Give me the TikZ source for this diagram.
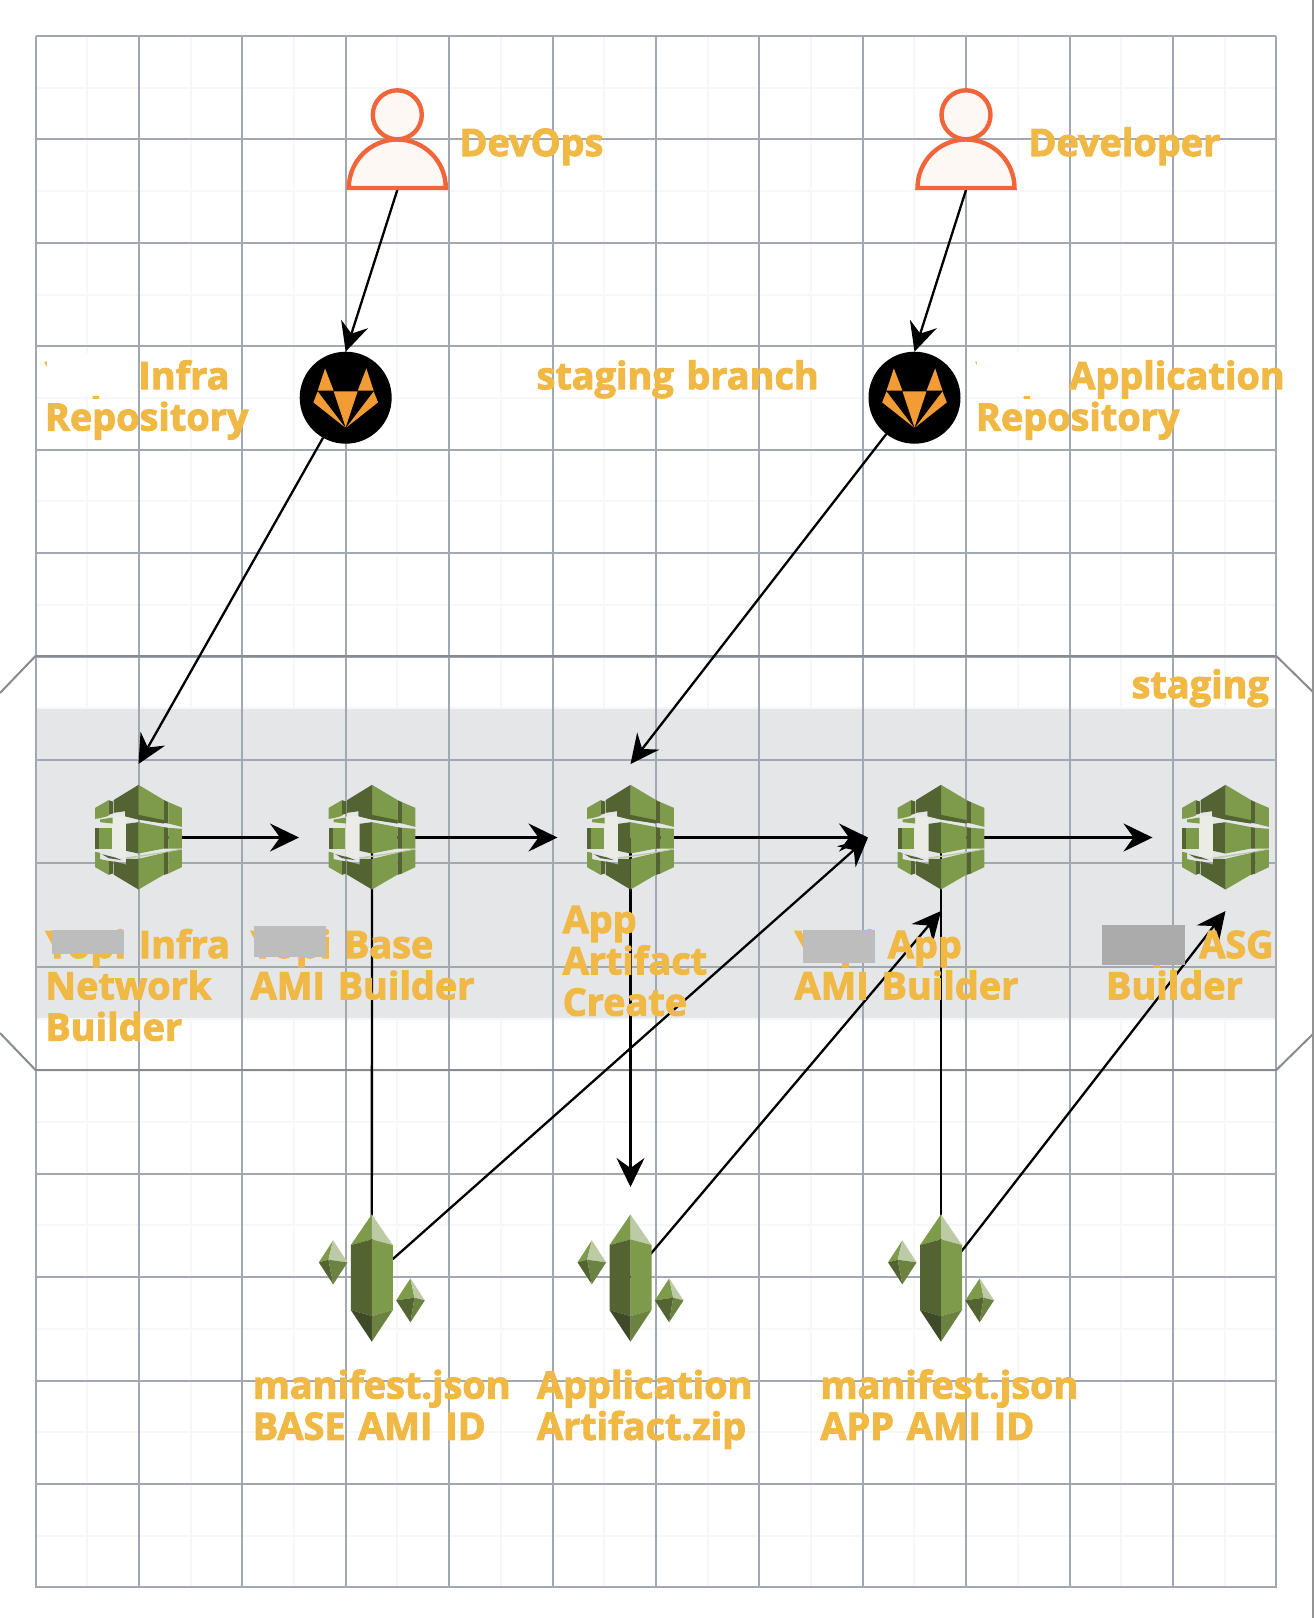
\documentclass[tikz,border=0pt]{standalone}
\usepackage{fontspec}
\setmainfont{Open Sans}[WordSpace=1.3]
\usetikzlibrary{arrows.meta}
\definecolor{gridmaj}{HTML}{A2A8B2}
\definecolor{gridmin}{HTML}{F6F7F8}
\definecolor{panelgray}{HTML}{E5E6E8}
\definecolor{edgegray}{HTML}{878A8F}
\definecolor{labelor}{HTML}{F0B945}
\definecolor{persona}{HTML}{F0653A}
\definecolor{personf}{HTML}{FDF8F4}
\definecolor{foxor}{HTML}{F39C35}
\definecolor{gL}{HTML}{7D9B4B}
\definecolor{gD}{HTML}{536331}
\definecolor{gX}{HTML}{3F4A28}
\definecolor{gM}{HTML}{6B8240}
\definecolor{gH}{HTML}{BCCAA5}
\definecolor{gapc}{HTML}{EBECE6}
\tikzset{
  majorline/.style={draw=gridmaj,line width=2pt},
  minorline/.style={draw=gridmin,line width=2pt},
  edgeline/.style={draw=edgegray,line width=2pt},
  conn/.style={draw=black,line width=2.3pt,-{Stealth[length=29pt,width=28pt,inset=10pt]}},
  plainconn/.style={draw=black,line width=2.3pt},
  lbl/.style={font=\fontsize{37.8}{41.3}\selectfont\bfseries,text=labelor,inner sep=0pt,outer sep=0pt,anchor=base west,align=left,
    execute at begin node={\special{pdf:code 2 Tr 1 w 1 1 1 RG}},
    execute at end node={\special{pdf:code 0 Tr}}},
  cbbox/.style={rectangle,minimum width=146pt,minimum height=147pt,inner sep=0pt,outer sep=0pt},
  snapbox/.style={rectangle,minimum width=146pt,minimum height=181.4pt,inner sep=0pt,outer sep=0pt},
  personbox/.style={rectangle,minimum width=101pt,minimum height=80pt,inner sep=0pt,outer sep=0pt},
  foxcircle/.style={circle,fill=black,minimum size=92pt,inner sep=0pt,outer sep=0pt},
  zoomed/.style={x=0.3333pt,y=-0.3333pt}
}
\newcommand{\drawcb}[1]{%
\begin{scope}[shift={(#1.center)},zoomed]
  \fill[gapc] (-80,-62)--(-37,-66)--(-37,62)--(-80,56)--cycle;
  % top
  \fill[gL] (0,-158)--(77,-112)--(77,-42)--(0,-54)--cycle;
  \fill[gD] (0,-158)--(-75,-112)--(-75,-74)--(-40,-79)--(-40,-64)--(0,-54)--cycle;
  \fill[gD] (-40,-79)--(0,-68)--(77,-52)--(77,-42)--(0,-54)--(-40,-64)--cycle;
  \fill[gD] (77,-112)--(90,-106)--(90,-42)--(77,-44)--cycle;
  \fill[gL] (90,-106)--(130,-89)--(130,-32)--(90,-42)--cycle;
  \fill[gL] (-130,-89)--(-90,-112)--(-90,-65)--(-115,-58)--(-130,-56)--cycle;
  \fill[gD] (-90,-112)--(-77,-108)--(-77,-72)--(-90,-68)--cycle;
  \fill[gL] (-115,-54)--(-78,-60)--(-78,-42)--(-115,-46)--cycle;
  % middle
  \fill[gD] (-37,-41)--(0,-46)--(0,48)--(-37,40)--cycle;
  \fill[gL] (0,-46)--(77,-31)--(77,33)--(0,48)--cycle;
  \fill[gD] (77,-31)--(90,-29)--(90,33)--(77,33)--cycle;
  \fill[gL] (90,-29)--(130,-26)--(130,33)--(90,33)--cycle;
  \fill[gD] (-130,-28)--(-118,-28)--(-118,33)--(-130,33)--cycle;
  \fill[gL] (-118,-28)--(-80,-28)--(-80,33)--(-118,33)--cycle;
  % bottom
  \fill[gL] (0,156)--(77,111)--(77,46)--(0,64)--cycle;
  \fill[gD] (0,156)--(-75,111)--(-75,71)--(-37,81)--(-37,64)--(0,64)--cycle;
  \fill[gD] (77,44)--(90,42)--(90,108)--(77,112)--cycle;
  \fill[gL] (90,42)--(130,36)--(130,89)--(90,108)--cycle;
  \fill[gL] (-130,43)--(-115,46)--(-115,65)--(-90,70)--(-90,112)--(-130,89)--cycle;
  \fill[gD] (-90,70)--(-77,72)--(-77,108)--(-90,112)--cycle;
  \fill[gD] (-110,50)--(-70,60)--(-50,68)--(-90,62)--cycle;
  % highlights
  \fill[gH] (-30,64)--(77,46)--(130,36)--(130,33)--(77,43)--(-40,60)--cycle;
\end{scope}}
\newcommand{\smallcrystal}[3]{%
  \fill[gL] (#1,#2-66)--(#1-43,#2)--(#1+#3,#2-8)--cycle;
  \fill[gH] (#1,#2-66)--(#1+43,#2)--(#1+#3,#2-8)--cycle;
  \fill[gD] (#1-43,#2)--(#1+#3,#2-8)--(#1,#2+66)--cycle;
  \fill[gM] (#1+43,#2)--(#1+#3,#2-8)--(#1,#2+66)--cycle;}
\newcommand{\drawsnap}[1]{%
\begin{scope}[shift={(#1.center)},zoomed]
  \fill[gL] (0,-190)--(-63,-98)--(0,-115)--cycle;
  \fill[gH] (0,-190)--(63,-98)--(0,-115)--cycle;
  \fill[gD] (-63,-98)--(0,-115)--(0,115)--(-63,97)--cycle;
  \fill[gL] (63,-98)--(0,-115)--(0,115)--(63,97)--cycle;
  \fill[gX] (-63,97)--(0,115)--(0,192)--cycle;
  \fill[gM] (63,97)--(0,115)--(0,192)--cycle;
  \smallcrystal{-116}{-46}{-14}
  \smallcrystal{116}{68}{12}
\end{scope}}
\newcommand{\drawfox}[1]{%
\begin{scope}[shift={(#1.center)},zoomed]
  \fill[foxor] (-62,-88)--(-84,-21)--(-36,-21)--cycle;
  \fill[foxor] (62,-88)--(84,-21)--(36,-21)--cycle;
  \fill[foxor] (-36,-19)--(36,-19)--(0,89)--cycle;
  \fill[foxor] (-84,-19)--(-97,14)--(-2,89)--cycle;
  \fill[foxor] (84,-19)--(97,14)--(2,89)--cycle;
\end{scope}}
\newcommand{\drawperson}[1]{%
\begin{scope}[shift={(#1.center)}]
  \path[draw=persona,fill=personf,line width=4.4pt] (-48.5,38) arc[start angle=180,end angle=0,radius=48.5pt] -- cycle;
  \path[draw=persona,fill=personf,line width=4.4pt] (0,-35.2) circle[radius=24.5pt];
\end{scope}}
\begin{document}
\begin{tikzpicture}[x=1pt,y=-1pt]
\useasboundingbox (0,0) rectangle (1314,1618);
\fill[white] (0,0) rectangle (1314,1618);
% minor grid
\foreach \i in {0,...,11} {
  \draw[minorline] ({35.5+103.4*\i+51.7},36) -- ({35.5+103.4*\i+51.7},1587.5);
}
\foreach \j in {0,...,14} {
  \draw[minorline] (35.5,{36+103.43*\j+51.7}) -- (1276.3,{36+103.43*\j+51.7});
}
% band
\fill[panelgray] (35.5,708.7) rectangle (1276.3,1018.3);
% major grid
\foreach \i in {0,...,12} {
  \draw[majorline] ({35.5+103.4*\i},36) -- ({35.5+103.4*\i},1587.5);
}
\foreach \j in {0,...,15} {
  \draw[majorline] (35.5,{36+103.43*\j}) -- (1276.3,{36+103.43*\j});
}
% chevron outline
\draw[edgeline] (0,693) -- (35.5,656) -- (1276.3,656) -- (1314,693);
\draw[edgeline] (0,1033) -- (35.5,1070) -- (1276.3,1070) -- (1314,1033);
\draw[draw=gray!85,line width=1.5pt] (1313,0) -- (1313,1618);
% nodes
\node[personbox] (p1) at (397.3,150) {};
\node[personbox] (p2) at (966,150) {};
\node[foxcircle] (g1) at (345.7,397.7) {};
\node[foxcircle] (g2) at (914.5,397.7) {};
\node[cbbox] (cb1) at (138.5,837.5) {};
\node[cbbox] (cb2) at (372,837.5) {};
\node[cbbox] (cb3) at (630.5,837.5) {};
\node[cbbox] (cb4) at (941,837.5) {};
\node[cbbox] (cb5) at (1225.5,837.5) {};
\node[snapbox] (s1) at (371.8,1277.7) {};
\node[snapbox] (s2) at (630.5,1277.7) {};
\node[snapbox] (s3) at (941,1277.7) {};
% connectors
\draw[conn] (p1.south) -- (g1.north);
\draw[conn] (p2.south) -- (g2.north);
\draw[conn] (g1) -- (cb1.north);
\draw[conn] (g2) -- (cb3.north);
\draw[conn] (cb1.center) -- (cb2.west);
\draw[conn] (cb2.center) -- (cb3.west);
\draw[conn] (cb3.center) -- (cb4.west);
\draw[conn] (cb4.center) -- (cb5.west);
\draw[plainconn] (cb2.center) -- (s1.center);
\draw[conn] (cb3.center) -- (s2.north);
\draw[plainconn] (cb4.center) -- (s3.center);
\draw[conn] (s1.center) -- (cb4.west);
\draw[conn] (s2.center) -- (cb4.south);
\draw[conn] (s3.center) -- (cb5.south);
% icons
\drawperson{p1}\drawperson{p2}
\drawfox{g1}\drawfox{g2}
\drawcb{cb1}\drawcb{cb2}\drawcb{cb3}\drawcb{cb4}\drawcb{cb5}
\drawsnap{s1}\drawsnap{s2}\drawsnap{s3}
% labels
\node[lbl] (tdev) at (459.5,156) {DevOps};
\node[lbl] (tdvl) at (1028.5,156) {Developer};
\node[lbl] (tinfra) at (45,430.5) {Yopi Infra\\Repository};
\node[lbl] (tbranch) at (536.6,389.2) {staging branch};
\node[lbl] (tapp) at (976,430.5) {Yopi Application\\Repository};
\node[lbl] (tstag) at (1131.7,698) {staging};
\node[lbl] (tb1) at (45.4,1040.6) {Yopi Infra\\Network\\Builder};
\node[lbl] (tb2) at (250.7,999.3) {Yopi Base\\AMI Builder};
\node[lbl] (tb3) at (562.7,1015.6) {App\\Artifact\\Create};
\node[lbl] (tb4) at (794.6,999.3) {Yopi App\\AMI Builder};
\node[lbl] (tb5) at (1106,999.3) {Yopi ASG\\Builder};
\node[lbl] (tm1) at (252.8,1439.8) {manifest.json\\BASE AMI ID};
\node[lbl] (tm2) at (537,1439.8) {Application\\Artifact.zip};
\node[lbl] (tm3) at (820.5,1439.8) {manifest.json\\APP AMI ID};
% redactions
\fill[white] (47,353) rectangle (137,396);
\fill[white] (977.3,353) rectangle (1068.5,396);
\fill[black!26] (51.7,930) rectangle (124.3,954);
\fill[black!26] (254,926) rectangle (326,956.7);
\fill[black!26] (802.7,930) rectangle (875,962.7);
\fill[black!33] (1101.7,925) rectangle (1185,965);
\end{tikzpicture}
\end{document}
